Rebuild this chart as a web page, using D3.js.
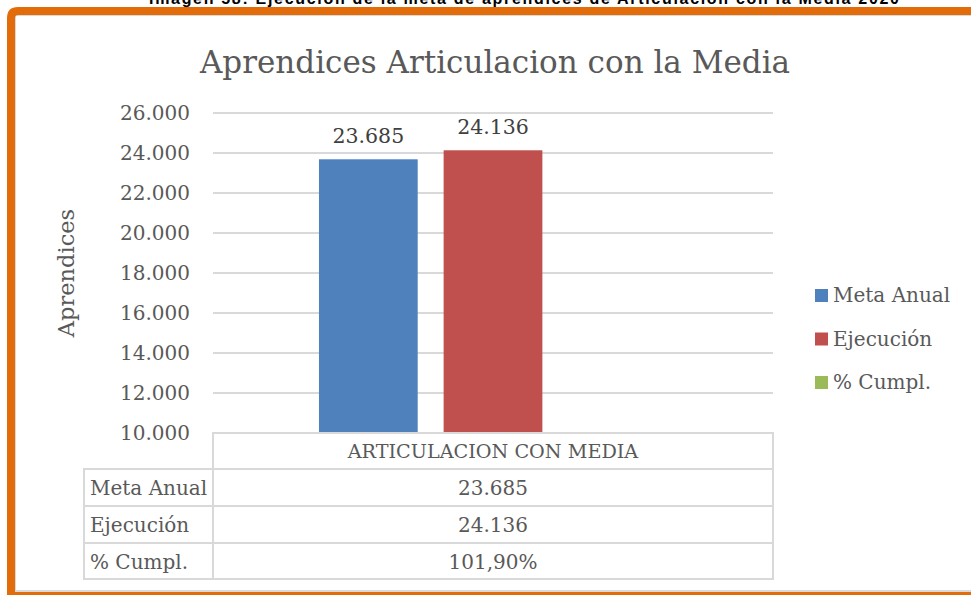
<!DOCTYPE html>
<html>
<head>
<meta charset="utf-8">
<script src="https://d3js.org/d3.v7.min.js"></script>
<style>
  body { margin: 0; background: #fff; }
  svg text { font-family: "DejaVu Serif", serif; fill: #595959; }
</style>
</head>
<body>
<svg id="chart" width="971" height="595"></svg>
<script>
// chart values
const categories = ["ARTICULACION CON MEDIA"];
const seriesNames = ["Meta Anual", "Ejecución", "% Cumpl."];
const seriesValues = [23685, 24136, 1.019];
const seriesColors = ["#4F81BD", "#C0504D", "#9BBB59"];
const tickValues = [10000, 12000, 14000, 16000, 18000, 20000, 22000, 24000, 26000];
const tableLabels = ["23.685", "24.136", "101,90%"];

const loc = d3.formatLocale({decimal: ",", thousands: ".", grouping: [3], currency: ["", ""]});
const fmt = loc.format(",d");

const svg = d3.select("#chart");

// caption above the frame (cut off by the page top, as in the source)
svg.append("text")
  .attr("x", 524).attr("y", 4)
  .attr("text-anchor", "middle")
  .attr("textLength", 750)
  .style("font-family", "'Liberation Sans', Arial, sans-serif")
  .style("font-weight", "bold")
  .style("font-size", "16px")
  .style("fill", "#000")
  .text("Imagen 58: Ejecución de la meta de aprendices de Articulación con la Media 2020");

// orange frame
svg.append("rect").attr("x", 15).attr("y", 15).attr("width", 980).attr("height", 576)
  .attr("fill", "none").attr("stroke", "#d9d9d9").attr("stroke-width", 2);
svg.append("path")
  .attr("d", "M11,600 L11,18 Q11,11 18,11 L990,11")
  .attr("fill", "none").attr("stroke", "#E36C0A").attr("stroke-width", 8);
svg.append("line").attr("x1", 7).attr("x2", 990).attr("y1", 594).attr("y2", 594)
  .attr("stroke", "#E36C0A").attr("stroke-width", 4);

// title
svg.append("text")
  .attr("x", 495).attr("y", 73)
  .attr("text-anchor", "middle")
  .style("font-size", "31px")
  .text("Aprendices Articulacion con la Media");

const pLeft = 213, pRight = 773, pTop = 113, pBottom = 433;

const y = d3.scaleLinear().domain([10000, 26000]).range([pBottom, pTop]).clamp(true);
const x = d3.scaleBand().domain(categories).range([pLeft, pRight]);
const xs = d3.scaleBand().domain(seriesNames).range([0, x.bandwidth()])
  .paddingInner(0.208).paddingOuter(0.85);

// gridlines
svg.append("g")
  .selectAll("line").data(tickValues.slice(1)).join("line")
  .attr("x1", pLeft).attr("x2", pRight)
  .attr("y1", d => y(d)).attr("y2", d => y(d))
  .attr("stroke", "#d9d9d9").attr("stroke-width", 2);

// y axis
const yAxis = svg.append("g").attr("transform", `translate(${pLeft},0)`)
  .call(d3.axisLeft(y).tickValues(tickValues).tickFormat(fmt).tickSize(0).tickPadding(23));
yAxis.select(".domain").remove();
yAxis.selectAll("text").style("font-size", "20px").style("fill", "#595959")
  .style("font-family", "'DejaVu Serif', serif");

svg.append("text")
  .attr("transform", "translate(74,273) rotate(-90)")
  .attr("text-anchor", "middle")
  .style("font-size", "22.5px")
  .text("Aprendices");

// bars
const bars = seriesNames.map((s, i) => ({name: s, value: seriesValues[i], color: seriesColors[i], cat: categories[0]}));
svg.append("g").selectAll("rect").data(bars).join("rect")
  .attr("x", d => x(d.cat) + xs(d.name))
  .attr("width", xs.bandwidth())
  .attr("y", d => y(d.value))
  .attr("height", d => pBottom - y(d.value))
  .attr("fill", d => d.color);

// data labels
svg.append("g").selectAll("text").data(bars.filter(d => d.value >= 10000)).join("text")
  .attr("x", d => x(d.cat) + xs(d.name) + xs.bandwidth() / 2)
  .attr("y", d => y(d.value) - 16)
  .attr("text-anchor", "middle")
  .style("font-size", "20.5px")
  .style("fill", "#404040")
  .text(d => fmt(d.value));

// data table
const tLeft = 84, rowY = [433, 469, 506, 543, 579];
const tg = svg.append("g").attr("stroke", "#d9d9d9").attr("stroke-width", 2).attr("fill", "none");
tg.append("rect").attr("x", pLeft).attr("y", rowY[0]).attr("width", pRight - pLeft).attr("height", rowY[4] - rowY[0]);
tg.append("rect").attr("x", tLeft).attr("y", rowY[1]).attr("width", pLeft - tLeft).attr("height", rowY[4] - rowY[1]);
tg.selectAll("line").data(rowY.slice(1, 4)).join("line")
  .attr("x1", tLeft).attr("x2", pRight).attr("y1", d => d).attr("y2", d => d);

svg.append("text")
  .attr("x", x(categories[0]) + x.bandwidth() / 2).attr("y", rowY[0] + 25)
  .attr("text-anchor", "middle")
  .style("font-size", "19.2px")
  .text(categories[0]);

seriesNames.forEach((s, i) => {
  svg.append("text").attr("x", 90).attr("y", rowY[i + 1] + 26)
    .style("font-size", "20px").text(s);
  svg.append("text").attr("x", x(categories[0]) + x.bandwidth() / 2).attr("y", rowY[i + 1] + 26)
    .attr("text-anchor", "middle").style("font-size", "20px").text(tableLabels[i]);
});

// legend
const lg = svg.append("g").attr("transform", "translate(815,0)");
seriesNames.forEach((s, i) => {
  const cy = 295 + i * 43.5;
  lg.append("rect").attr("x", 0).attr("y", cy - 6).attr("width", 13).attr("height", 13).attr("fill", seriesColors[i]);
  lg.append("text").attr("x", 18).attr("y", cy + 7).style("font-size", "20px").text(s);
});
</script>
</body>
</html>
